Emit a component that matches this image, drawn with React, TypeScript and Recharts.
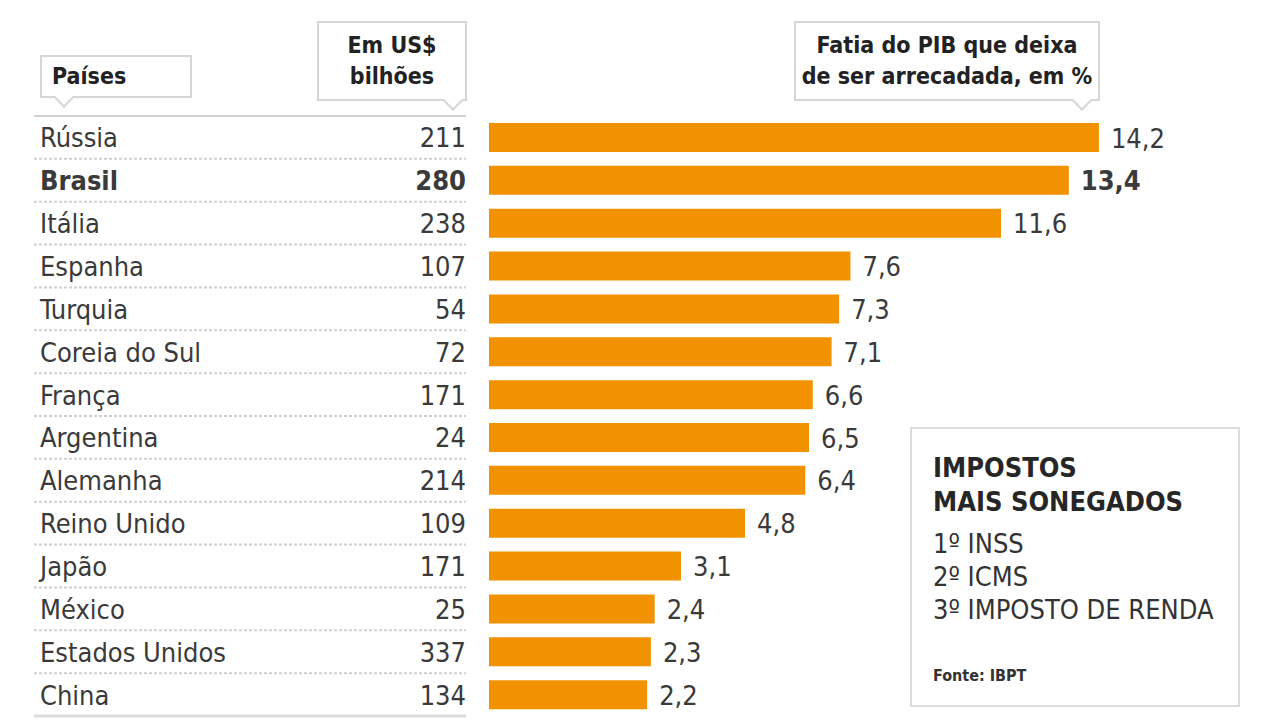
import React from 'react';
import { BarChart, Bar, XAxis, YAxis, LabelList } from 'recharts';

const countries = [
  'Rússia', 'Brasil', 'Itália', 'Espanha', 'Turquia', 'Coreia do Sul', 'França',
  'Argentina', 'Alemanha', 'Reino Unido', 'Japão', 'México', 'Estados Unidos', 'China',
];
const lostUsdBillions = [211, 280, 238, 107, 54, 72, 171, 24, 214, 109, 171, 25, 337, 134];
const lostGdpShare = [14.2, 13.4, 11.6, 7.6, 7.3, 7.1, 6.6, 6.5, 6.4, 4.8, 3.1, 2.4, 2.3, 2.2];
const highlighted = 'Brasil';
const topTaxes = ['1º INSS', '2º ICMS', '3º IMPOSTO DE RENDA'];

// the bars in the original start well left of zero
const AXIS_MIN = -2;
const AXIS_MAX = 18;

const FONT = '"DejaVu Sans Condensed", "Liberation Sans Narrow", "Open Sans", sans-serif';
const ORANGE = '#F39200';
const TEXT = '#3a3a3a';
const ROW_H = 600 / 14;

const data = countries.map((name, i) => ({
  name,
  usd: lostUsdBillions[i],
  pct: lostGdpShare[i],
}));

const RowTick = (props: any) => {
  const { y, payload, index } = props;
  const row = data[index];
  const bold = payload.value === highlighted;
  const top = y - ROW_H / 2;
  return (
    <g>
      <line x1={34} x2={466} y1={top} y2={top} stroke="#cfcfcf" strokeWidth={2}
        strokeDasharray={index === 0 ? undefined : '3 2'} />
      {index === data.length - 1 && (
        <line x1={34} x2={466} y1={top + ROW_H} y2={top + ROW_H} stroke="#dcdcdc" strokeWidth={3} />
      )}
      <text x={40} y={y + 10} fontSize={27} fontFamily={FONT} fill={TEXT}
        fontWeight={bold ? 700 : 400}>{payload.value}</text>
      <text x={466} y={y + 10} fontSize={27} fontFamily={FONT} fill={TEXT}
        textAnchor="end" fontWeight={bold ? 700 : 400}>{row ? row.usd : ''}</text>
    </g>
  );
};

const ValueLabel = (props: any) => {
  const { x, y, width, height, value, index } = props;
  const bold = data[index] && data[index].name === highlighted;
  return (
    <text x={x + width + 12} y={y + height / 2 + 10} fontSize={27} fontFamily={FONT}
      fill={TEXT} fontWeight={bold ? 700 : 400}>
      {Number(value).toFixed(1).replace('.', ',')}
    </text>
  );
};

const Callout = ({ left, top, width, height, pointerX, lines }: any) => (
  <div style={{
    position: 'absolute', left, top, width, height, boxSizing: 'border-box',
    border: '2px solid #d6d6d6', background: '#fff', fontFamily: FONT,
    fontWeight: 700, fontSize: 23, lineHeight: '31px', color: '#222',
    display: 'flex', flexDirection: 'column', justifyContent: 'center',
    alignItems: lines.length > 1 ? 'center' : 'flex-start', paddingLeft: lines.length > 1 ? 0 : 10,
  }}>
    {lines.map((l: string) => <div key={l}>{l}</div>)}
    <div style={{
      position: 'absolute', left: pointerX - 7, bottom: -9, width: 12, height: 12,
      background: '#fff', borderRight: '2px solid #d6d6d6', borderBottom: '2px solid #d6d6d6',
      transform: 'rotate(45deg)',
    }} />
  </div>
);

export default function App() {
  return (
    <div style={{ position: 'absolute', left: 0, top: 0, width: 1280, height: 720, background: '#fff', overflow: 'hidden' }}>
      <BarChart
        width={1280}
        height={720}
        layout="vertical"
        data={data}
        margin={{ top: 116, right: 38, bottom: 4, left: 0 }}
        barSize={29}
      >
        <XAxis type="number" domain={[AXIS_MIN, AXIS_MAX]} hide />
        <YAxis type="category" dataKey="name" width={489} axisLine={false} tickLine={false}
          interval={0} tick={<RowTick />} />
        <Bar dataKey={(d: any) => [AXIS_MIN, d.pct]} fill={ORANGE} isAnimationActive={false}>
          <LabelList dataKey="pct" content={<ValueLabel />} />
        </Bar>
      </BarChart>

      <Callout left={40} top={55} width={152} height={43} pointerX={22} lines={['Países']} />
      <Callout left={317} top={21} width={150} height={80} pointerX={134} lines={['Em US$', 'bilhões']} />
      <Callout left={794} top={21} width={306} height={80} pointerX={286}
        lines={['Fatia do PIB que deixa', 'de ser arrecadada, em %']} />

      <div style={{
        position: 'absolute', left: 910, top: 427, width: 330, height: 280, boxSizing: 'border-box',
        border: '2px solid #dcdcdc', fontFamily: FONT, color: '#262626', padding: '22px 0 0 21px',
      }}>
        <div style={{ fontWeight: 700, fontSize: 27, lineHeight: '34px' }}>IMPOSTOS</div>
        <div style={{ fontWeight: 700, fontSize: 27, lineHeight: '34px', marginBottom: 8 }}>MAIS SONEGADOS</div>
        {topTaxes.map(t => (
          <div key={t} style={{ fontSize: 27, lineHeight: '33px', color: '#333' }}>{t}</div>
        ))}
        <div style={{ fontWeight: 700, fontSize: 16, marginTop: 40, color: '#333' }}>Fonte: IBPT</div>
      </div>
    </div>
  );
}
